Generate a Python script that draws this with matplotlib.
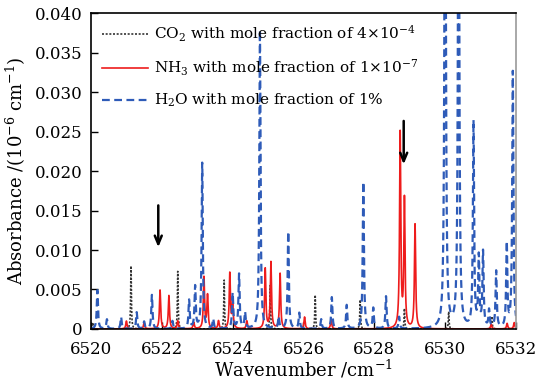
import numpy as np
import matplotlib
matplotlib.use("Agg")
import matplotlib.pyplot as plt

plt.rcParams['font.family'] = ['DejaVu Serif']
plt.rcParams['mathtext.fontset'] = 'dejavuserif'

# Line centres (cm^-1) and peak absorbances for each species
co2_centers = [6520.05, 6521.13, 6522.45, 6523.76, 6525.06, 6526.33, 6527.60, 6528.85, 6530.10, 6531.32]
co2_heights = [0.0008, 0.0080, 0.0073, 0.0062, 0.0055, 0.0043, 0.0037, 0.0026, 0.0022, 0.0016]

nh3_centers = [6521.00, 6521.50, 6521.95, 6522.20, 6522.45, 6522.90, 6523.19, 6523.29, 6523.60,
               6523.92, 6524.00, 6524.40, 6524.92, 6525.08, 6525.34, 6526.03, 6526.78,
               6528.73, 6528.85, 6529.15, 6531.30, 6531.75, 6531.95]
nh3_heights = [0.0010, 0.0008, 0.0049, 0.0042, 0.0010, 0.0008, 0.0065, 0.0042, 0.0010,
               0.0070, 0.0032, 0.0010, 0.0076, 0.0084, 0.0070, 0.0015, 0.0012,
               0.0247, 0.0162, 0.0132, 0.0006, 0.0007, 0.0008]

h2o_centers = [6520.18, 6520.45, 6520.85, 6521.29, 6521.50, 6521.72, 6522.30, 6522.77, 6522.94,
               6523.14, 6523.45, 6524.00, 6524.18, 6524.35, 6524.77, 6525.30, 6525.57, 6525.88,
               6526.50, 6526.80, 6527.22, 6527.69, 6527.97, 6528.33, 6528.70, 6530.00, 6530.38,
               6530.80, 6530.95, 6531.07, 6531.24, 6531.44, 6531.74, 6531.91]
h2o_heights = [0.0049, 0.0012, 0.0015, 0.0021, 0.0009, 0.0043, 0.0010, 0.0036, 0.0053,
               0.0210, 0.0012, 0.0045, 0.0069, 0.0020, 0.0378, 0.0015, 0.0123, 0.0020,
               0.0012, 0.0040, 0.0030, 0.0186, 0.0026, 0.0041, 0.0015, 0.0900, 0.0800,
               0.0260, 0.0088, 0.0095, 0.0022, 0.0072, 0.0106, 0.0325]

x_ticks = [6520, 6522, 6524, 6526, 6528, 6530, 6532]
y_ticks = [0, 0.005, 0.010, 0.015, 0.020, 0.025, 0.030, 0.035, 0.040]
y_tick_labels = ["0", "0.005", "0.010", "0.015", "0.020", "0.025", "0.030", "0.035", "0.040"]

# Arrows marking the selected NH3 lines: (x, y_start, y_end)
arrow_x = [6521.90, 6528.83]
arrow_y0 = [0.0160, 0.0267]
arrow_y1 = [0.0100, 0.0205]

nu = np.linspace(6520, 6532, 8001)


def spectrum(centers, heights, hwhm):
    out = np.zeros_like(nu)
    for c, h in zip(centers, heights):
        out += h * hwhm**2 / ((nu - c)**2 + hwhm**2)
    return out


co2 = spectrum(co2_centers, co2_heights, 0.012)
nh3 = spectrum(nh3_centers, nh3_heights, 0.020)
h2o = spectrum(h2o_centers, h2o_heights, 0.020)

fig = plt.figure(figsize=(5.4, 3.87), dpi=100)
ax = fig.add_axes([0.1685, 0.150, 0.787, 0.816])

ax.plot(nu, co2, color='#333333', lw=1.2, ls=(0, (1.2, 1.0)),
        label=r'CO$_2$ with mole fraction of 4$\times$10$^{-4}$')
ax.plot(nu, nh3, color='#ee1c1c', lw=1.2,
        label=r'NH$_3$ with mole fraction of 1$\times$10$^{-7}$')
ax.plot(nu, h2o, color='#2e5bb8', lw=1.6, ls=(0, (3.5, 2.0)),
        label=r'H$_2$O with mole fraction of 1%')

for xa, y0, y1 in zip(arrow_x, arrow_y0, arrow_y1):
    ax.annotate('', xy=(xa, y1), xytext=(xa, y0),
                arrowprops=dict(arrowstyle='->,head_length=0.6,head_width=0.25',
                                color='black', lw=1.8))

ax.set_xlim(6520, 6532)
ax.set_ylim(0, 0.040)
ax.set_xticks(x_ticks)
ax.set_yticks(y_ticks)
ax.set_yticklabels(y_tick_labels)
ax.tick_params(direction='in', length=5, width=1, labelsize=12,
               top=False, right=False)
ax.tick_params(axis='x', pad=9)
ax.tick_params(axis='y', pad=6)
for s in ax.spines.values():
    s.set_linewidth(1.2)
ax.spines['right'].set_color('#999999')

ax.set_xlabel(r'Wavenumber /cm$^{-1}$', fontsize=13, labelpad=0)
ax.set_ylabel(r'Absorbance /(10$^{-6}$ cm$^{-1}$)', fontsize=13, labelpad=5)

ax.legend(loc='upper left', frameon=False, fontsize=11, handlelength=3.0,
          handletextpad=0.4, labelspacing=0.9, borderaxespad=0.3,
          bbox_to_anchor=(0.0, 1.0))

fig.savefig('out.png', dpi=100)
